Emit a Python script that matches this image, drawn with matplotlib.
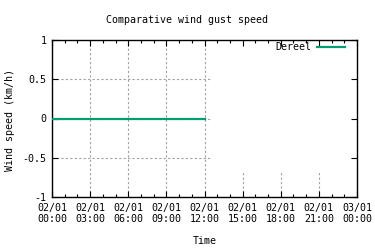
import datetime as dt

import matplotlib
matplotlib.use("Agg")
import matplotlib.pyplot as plt
import matplotlib.dates as mdates

# --------------------------------------------------------------------------------------------------
# DATA: one station, flat at zero for the first half of the day
station = "Dereel"
times = ["00:00", "01:00", "02:00", "03:00", "04:00", "05:00", "06:00",
         "07:00", "08:00", "09:00", "10:00", "11:00", "12:00"]
gust_kmh = [0, 0, 0, 0, 0, 0, 0, 0, 0, 0, 0, 0, 0]

day = dt.datetime(2024, 1, 2)
x_start = day
x_end = day + dt.timedelta(days=1)
y_ticks = [-1, -0.5, 0, 0.5, 1]
y_tick_labels = ["-1", "-0.5", "0", "0.5", "1"]

stamps = [day + dt.timedelta(hours=int(t[:2]), minutes=int(t[3:])) for t in times]

# --------------------------------------------------------------------------------------------------
# STYLE
plt.rcParams["font.family"] = ["DejaVu Sans Mono"]
plt.rcParams["font.size"] = 7.2
TEAL = "#009e73"
GRID = "#a0a0a0"

fig = plt.figure(figsize=(3.75, 2.5), dpi=100)
ax = fig.add_axes([52 / 375, 1 - 197 / 250, 305 / 375, 157 / 250])

ax.plot(stamps, gust_kmh, color=TEAL, linewidth=1.6, label=station, zorder=3)

ax.set_xlim(x_start, x_end)
ax.set_ylim(-1, 1)
ax.set_yticks(y_ticks)
ax.set_yticklabels(y_tick_labels)

ax.xaxis.set_major_locator(mdates.HourLocator(byhour=range(0, 24, 3)))
ax.xaxis.set_minor_locator(mdates.HourLocator())
ax.xaxis.set_major_formatter(mdates.DateFormatter("%d/%m\n%H:%M"))

ax.tick_params(which="both", direction="in", top=True, right=True, color="black")
ax.tick_params(which="major", length=4, width=0.8, pad=4)
ax.tick_params(which="minor", length=2.5, width=0.8)
for s in ax.spines.values():
    s.set_linewidth(1.0)

# --------------------------------------------------------------------------------------------------
# GRID: gnuplot's opaque key box hides the grid in the upper right part of the plot
mask_x = 0.518
mask_y = 0.16
half = mdates.date2num(day + dt.timedelta(hours=12))
for t in ax.get_xticks():
    top = 1.0 if t <= half + 1e-9 else mask_y
    ax.axvline(t, ymin=0, ymax=top, color=GRID, linestyle=(0, (2, 2)), linewidth=0.8, zorder=1)
for v in y_ticks[1:-1]:
    ax.axhline(v, xmin=0, xmax=mask_x, color=GRID, linestyle=(0, (2, 2)), linewidth=0.8, zorder=1)

ax.legend(loc="upper right", bbox_to_anchor=(1 - 8 / 305, 1 + 1.5 / 157), borderaxespad=0,
          frameon=False, markerfirst=False, handlelength=2.8, handletextpad=0.6, fontsize=7.2)

fig.text(0.5, 1 - 20 / 250, "Comparative wind gust speed", ha="center", va="center")
fig.text(0.5 * (52 + 357) / 375, 1 - 241 / 250, "Time", ha="center", va="center")
fig.text(10 / 375, 1 - 120 / 250, "Wind speed (km/h)", ha="center", va="center", rotation=90)

fig.savefig("out.png", dpi=100)
